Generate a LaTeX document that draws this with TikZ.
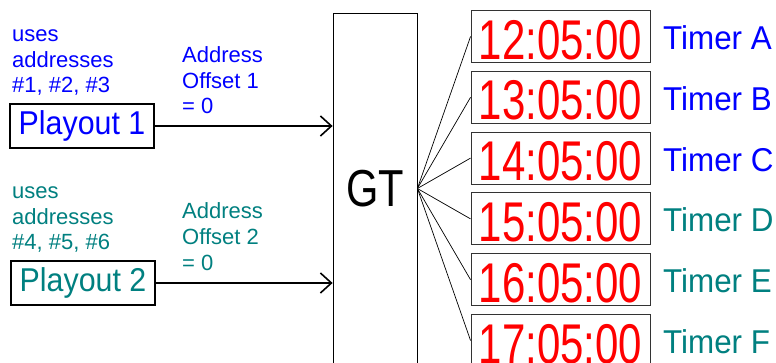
\documentclass[tikz,border=0pt]{standalone}
\usepackage{fontspec}
\setmainfont{Liberation Sans}
\usepackage{graphicx}
\usetikzlibrary{arrows.meta}
\definecolor{cblue}{RGB}{0,0,255}
\definecolor{cteal}{RGB}{0,128,128}
\definecolor{cred}{RGB}{255,0,0}
\begin{document}
\begin{tikzpicture}[x=1pt,y=-1pt,
  small/.style={anchor=base west,inner sep=0pt,align=left,font=\fontsize{22}{25.8}\selectfont},
  playbox/.style={draw=black,line width=2pt,minimum width=144pt,minimum height=44pt,inner sep=0pt,font=\fontsize{33}{33}\selectfont},
  timerbox/.style={draw=black!80,line width=0.9pt,minimum width=179pt,minimum height=52pt,inner sep=0pt,text=cred,font=\fontsize{56}{56}\selectfont},
  timerlbl/.style={anchor=base west,inner sep=0pt,font=\fontsize{33}{33}\selectfont},
  arr/.style={line width=1.6pt,-{Straight Barb[length=11pt,width=20pt,line width=1.6pt]}},
  fan/.style={line width=0.7pt}]
\useasboundingbox (0,0) rectangle (776,363);
\clip (0,0) rectangle (776,363);
\fill[white] (0,0) rectangle (776,363);
% GT box
\node[draw=black,line width=0.8pt,minimum width=84pt,minimum height=351pt,inner sep=0pt,font=\fontsize{52}{52}\selectfont] (gt) at (375,188.5) {\scalebox{0.8}[1]{GT}};
% left side
\node[small,text=cblue] (u1) at (12,93) {uses\\addresses\\\#1, \#2, \#3};
\node[small,text=cblue] (a1) at (182,114) {Address\\Offset 1\\= 0};
\node[playbox,text=cblue] (p1) at (82,126) {\scalebox{0.92}[1]{Playout 1}};
\node[small,text=cteal] (u2) at (12,250) {uses\\addresses\\\#4, \#5, \#6};
\node[small,text=cteal] (a2) at (182,270) {Address\\Offset 2\\= 0};
\node[playbox,text=cteal] (p2) at (83,283) {\scalebox{0.92}[1]{Playout 2}};
\draw[arr] (p1.east) -- (p1.east -| gt.west);
\draw[arr] (p2.east) -- (p2.east -| gt.west);
% timers
\foreach \i/\t/\l/\c in {0/12/A/cblue,1/13/B/cblue,2/14/C/cblue,3/15/D/cteal,4/16/E/cteal,5/17/F/cteal}{
  \node[timerbox] (t\i) at (560.5,{36.5+60.8*\i}) {\raisebox{-3pt}[\height][0pt]{\scalebox{0.75}[1]{\t:05:00}}};
  \node[timerlbl,text=\c] (l\i) at (663,{50+60.6*\i}) {\scalebox{0.95}[1]{Timer \l}};
  \draw[fan] (gt.east) -- (t\i.west);
}
\end{tikzpicture}
\end{document}
